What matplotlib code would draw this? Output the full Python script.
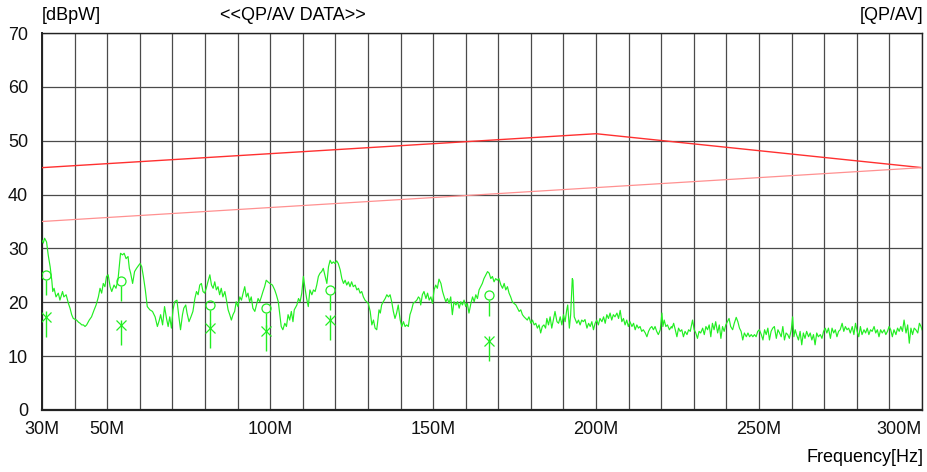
import numpy as np
import matplotlib.pyplot as plt

plt.rcParams['font.family'] = ['Liberation Sans', 'DejaVu Sans']

# limit lines (MHz, dBpW)
qp_limit_freq = [30, 200, 300]
qp_limit_level = [45.0, 51.3, 45.0]
av_limit_freq = [30, 300]
av_limit_level = [35.0, 45.0]

trace_freq = [
    30.0, 30.4, 30.8, 31.4, 31.9, 32.5, 33.0, 33.3, 33.7, 34.3, 35.0, 35.5, 36.3, 36.7, 37.4,
    38.1, 38.6, 39.1, 39.6, 40.6, 41.2, 41.7, 42.2, 42.7, 43.2, 43.7, 44.5, 45.2, 46.0, 46.6,
    47.3, 47.8, 48.3, 48.8, 49.3, 49.8, 50.3, 50.9, 51.4, 52.1, 52.7, 53.3, 53.7, 54.1, 54.7,
    55.2, 55.8, 56.4, 56.8, 57.2, 57.8, 58.4, 59.0, 59.7, 60.1, 60.6, 61.1, 61.7, 62.3, 63.1,
    63.9, 64.7, 65.4, 66.0, 66.4, 67.0, 67.6,
    68.2, 68.7, 69.2, 69.7, 70.2, 70.7, 71.4, 72.0, 72.5, 73.1, 73.5, 74.1, 74.5, 75.1, 75.7,
    76.3, 76.9, 77.4, 77.9, 78.4, 78.9, 79.4, 79.9, 80.4, 80.9, 81.5, 82.0, 82.5, 83.0, 83.5,
    84.0, 84.5, 85.0, 85.5, 86.1, 86.6, 87.1, 87.6, 88.1, 88.6, 89.1, 89.6, 90.1, 90.7, 91.2,
    91.7, 92.2, 92.7, 93.2, 93.7, 94.2, 94.7, 95.3, 95.8, 96.3, 96.8, 97.3, 97.8, 98.3, 98.8,
    99.3, 99.9, 100.7, 101.4, 101.9, 102.5, 102.9, 103.4, 103.9, 104.5, 105.0, 105.5, 106.0,
    106.5, 107.0, 107.4,
    108.2, 108.7, 109.2, 109.7, 110.2, 110.7, 111.2, 111.7, 112.2, 112.8, 113.3, 113.8, 114.3,
    114.8, 115.3, 115.8, 116.3, 116.9, 117.4, 117.9, 118.4, 118.9, 119.4, 119.9, 120.4, 120.9,
    121.5, 122.0, 122.5, 123.0, 123.5, 124.0, 124.5, 125.0, 125.5, 126.1, 126.6, 127.1, 127.6,
    128.1, 128.6, 129.1, 129.6, 130.1, 130.7, 131.2, 131.7, 132.2, 132.7, 133.0, 133.4, 133.8,
    134.2, 134.7, 135.3, 135.8, 136.3, 136.8, 137.3, 137.8, 138.3, 138.8, 139.3, 139.9, 140.4,
    140.9, 141.4, 141.9, 142.4, 142.9, 143.4, 143.9, 144.5, 145.0, 145.5, 145.9,
    146.2, 146.7, 147.2, 147.8, 148.3, 148.8, 149.3, 149.8, 150.3, 150.8, 151.3, 151.8, 152.4,
    152.9, 153.4, 153.9, 154.4, 154.9, 155.4, 155.9, 156.4, 157.0, 157.5, 158.0, 158.5, 159.0,
    159.5, 160.0, 160.5, 161.0, 161.6, 162.1, 162.6, 163.1, 163.6, 164.1, 164.6, 165.1, 165.6,
    166.2, 166.7, 167.2, 167.7, 168.2, 168.7, 169.2, 169.7, 170.2, 170.8, 171.3, 171.8, 172.3,
    172.8, 173.3, 173.8, 174.3, 174.8, 175.4, 175.9, 176.4, 176.9, 177.4, 177.9, 178.4, 178.9,
    179.4, 180.0, 180.5, 181.0, 181.5, 182.0, 182.5, 183.0, 183.5, 184.0, 184.5,
    184.9, 185.4, 185.9, 186.4, 186.9, 187.4, 188.0, 188.5, 189.0, 189.5, 190.0, 190.5, 191.0,
    191.3, 191.8, 192.2, 192.7, 192.9, 193.3, 193.7, 194.1, 194.6, 195.1, 195.6, 196.1, 196.6,
    197.2, 197.7, 198.2, 198.7, 199.2, 199.7, 200.2, 200.7, 201.2, 201.8, 202.3, 202.8, 203.3,
    203.8, 204.3, 204.8, 205.3, 205.8, 206.4, 206.9, 207.4, 207.9, 208.4, 208.9, 209.4, 209.9,
    210.4, 211.0, 211.5, 212.0, 212.5, 213.0, 213.5, 214.0, 214.5, 215.1, 215.6, 216.1, 216.6,
    217.1, 217.6, 218.1, 218.6, 219.1, 219.7, 220.2, 220.5, 220.9, 221.4, 221.9, 222.5, 223.1,
    223.3, 223.8, 224.3, 224.8, 225.3, 225.8, 226.3, 226.8, 227.3, 227.9, 228.4, 228.9, 229.6,
    230.1, 230.6, 231.1, 231.6, 232.1, 232.7, 233.2, 233.7, 234.2, 234.7, 235.2, 235.7, 236.2,
    236.7, 237.3, 237.8, 238.3, 238.8, 239.3, 239.8, 240.3, 240.8, 241.3, 241.9, 242.4, 243.0,
    243.5, 244.0, 244.5, 245.0, 245.5, 246.1, 246.6, 247.1, 247.6, 248.1, 248.6, 249.1, 249.6,
    250.1, 250.7, 251.2, 251.7, 252.2, 252.7, 253.2, 253.7, 254.2, 254.7, 255.3, 255.8, 256.3,
    256.8, 257.3, 257.8, 258.3, 258.8, 259.3, 259.9, 260.3, 260.7, 261.1, 261.5,
    262.1, 262.6, 263.1, 263.6, 264.1, 264.6, 265.2, 265.7, 266.2, 266.7, 267.2, 267.7, 268.2,
    268.8, 269.3, 269.8, 270.3, 270.8, 271.3, 271.9, 272.4, 272.9, 273.4, 273.9, 274.4, 274.9,
    275.5, 276.0, 276.5, 277.0, 277.5, 278.0, 278.6, 279.1, 279.6, 280.1, 280.6, 281.1, 281.6,
    282.2, 282.7, 283.2, 283.7, 284.2, 284.7, 285.3, 285.8, 286.3, 286.8, 287.3, 287.8, 288.4,
    288.9, 289.4, 289.9, 290.4, 290.9, 291.4, 292.0, 292.5, 293.0, 293.5, 294.0, 294.5, 295.1,
    295.6, 296.1, 296.6, 297.1, 297.6, 298.1, 298.7, 299.2, 299.7, 300.0,
]
trace_level = [
    31.5, 31.0, 31.9, 31.2, 28.8, 26.6, 24.1, 22.0, 22.6, 21.0, 21.7, 20.4, 22.0, 21.0, 21.4,
    19.8, 18.9, 17.7, 17.0, 16.7, 16.3, 16.1, 15.8, 15.8, 15.5, 15.8, 16.7, 17.3, 18.6, 19.5,
    21.0, 22.6, 21.7, 23.5, 22.9, 24.8, 25.1, 22.9, 22.0, 23.2, 22.6, 24.1, 26.6, 29.1, 28.8,
    29.1, 28.1, 28.5, 26.3, 25.4, 23.5, 25.7, 26.3, 26.9, 27.2, 26.6, 24.8, 22.3, 19.2, 18.6,
    18.3, 17.3, 15.5, 16.7, 17.7, 15.8, 19.2,
    17.0, 15.5, 17.3, 15.2, 18.6, 20.1, 20.4, 17.3, 14.9, 17.7, 18.9, 19.5, 18.0, 16.4, 17.3,
    18.3, 20.7, 22.0, 21.4, 23.2, 23.5, 22.0, 21.7, 22.6, 23.8, 25.1, 23.2, 22.6, 23.8, 22.3,
    22.9, 21.4, 22.6, 21.0, 22.0, 20.4, 18.6, 17.7, 16.7, 17.7, 18.3, 20.1, 19.2, 21.0, 20.4,
    21.7, 22.9, 21.0, 21.7, 20.1, 21.0, 18.9, 18.3, 19.5, 20.7, 20.1, 21.0, 22.0, 22.9, 24.1,
    23.8, 23.5, 23.2, 22.3, 21.4, 20.1, 18.0, 15.5, 14.9, 16.1, 15.5, 17.7, 16.7,
    18.3, 16.4, 18.6,
    19.5, 20.7, 20.1, 21.7, 24.8, 22.6, 20.7, 19.2, 22.3, 21.4, 22.3, 22.0, 23.2,
    24.8, 25.4, 25.7, 26.3, 24.8, 23.5, 26.6, 27.8, 27.2, 27.5, 27.2, 27.7, 27.2,
    26.0, 24.4, 23.5, 24.1, 23.2, 23.8, 22.9, 23.8, 22.9, 23.2, 22.3, 22.6, 21.7,
    22.0, 21.0, 20.4, 20.1, 19.8, 18.3, 15.8, 16.7, 15.2, 14.9, 16.4, 18.6, 18.0,
    19.5, 20.1, 20.7, 21.4, 21.0, 21.4, 20.1, 18.3, 17.0, 18.0, 19.5, 16.7, 15.5,
    16.4, 15.5, 15.8, 15.5, 17.7, 18.6, 19.8, 20.1, 20.4, 21.0, 20.7,
    19.5, 21.4, 22.0, 20.7, 21.7, 20.4, 21.0, 19.8, 22.3, 23.2, 22.6, 24.3, 23.5,
    22.0, 21.0, 20.1, 20.7, 19.8, 21.0, 17.7, 20.1, 19.5, 20.1, 18.9, 20.1, 19.5,
    20.4, 19.2, 19.8, 18.0, 19.8, 21.0, 20.1, 21.4, 20.7, 22.3, 22.9, 23.5, 24.4,
    25.1, 25.7, 25.4, 24.4, 24.8, 23.8, 24.4, 24.1, 24.4, 23.2, 22.6, 23.5, 22.3,
    22.9, 21.7, 21.0, 20.1, 19.8, 19.5, 18.9, 18.3, 18.6, 17.7, 17.3, 17.0, 16.7,
    17.3, 16.1, 16.7, 15.8, 16.1, 15.2, 15.8, 14.3, 15.5, 15.8, 15.2,
    17.0, 15.8, 17.3, 15.2, 16.7, 18.3, 16.4, 16.1, 17.3, 15.8, 17.7, 16.4, 18.6,
    19.5, 15.2, 17.7, 24.4, 24.1, 17.3, 16.7, 16.1, 16.7, 15.8, 16.7, 16.4, 16.8,
    15.2, 16.1, 15.5, 16.4, 14.9, 16.1, 16.7, 15.8, 17.0, 16.4, 17.3, 16.1, 17.7,
    17.0, 18.0, 16.7, 17.7, 17.3, 18.0, 17.0, 18.5, 16.4, 17.0, 15.8, 16.7, 15.5,
    16.4, 15.5, 16.1, 14.9, 15.8, 15.2, 15.5, 14.6, 14.9, 14.3, 13.6, 14.6, 15.2,
    15.5, 14.9, 15.5, 14.6, 14.0, 14.9, 18.0, 15.5, 16.7, 15.5, 15.8, 14.9, 15.5,
    15.2, 16.1, 14.9, 13.6, 15.2, 14.6, 14.9, 13.6, 14.6, 14.0, 14.9, 14.6, 16.7,
    14.9, 14.3, 13.3, 14.6, 14.3, 15.2, 14.0, 15.5, 14.9, 15.8, 13.6, 16.1, 14.9,
    16.4, 14.3, 15.8, 13.3, 15.5, 14.6, 15.8, 16.4, 17.0, 15.5, 14.9, 16.1, 17.2,
    16.4, 15.2, 14.6, 13.0, 14.3, 13.6, 14.3, 13.6, 14.0, 13.6, 14.0, 13.6, 14.6,
    14.9, 14.0, 13.0, 14.9, 14.0, 15.2, 13.0, 14.6, 15.2, 15.5, 13.3, 14.9, 14.3,
    13.6, 15.5, 13.0, 14.3, 14.0, 13.3, 14.9, 17.3, 13.6, 14.9, 14.0,
    13.0, 14.6, 12.1, 14.3, 13.3, 14.6, 13.6, 14.3, 13.0, 14.0, 12.1, 14.3, 13.6,
    14.0, 13.3, 14.6, 15.2, 14.3, 15.2, 13.3, 15.2, 14.3, 14.9, 13.6, 14.6, 14.9,
    16.1, 14.6, 15.5, 14.9, 15.2, 14.3, 15.5, 14.0, 16.1, 14.6, 13.6, 15.5, 14.0,
    14.9, 14.3, 15.2, 14.0, 14.9, 14.6, 15.5, 14.3, 14.9, 13.6, 14.9, 14.3, 14.9,
    14.0, 14.6, 15.5, 14.9, 13.6, 14.9, 14.0, 15.2, 14.6, 15.5, 14.6, 16.7, 14.3,
    15.8, 12.4, 15.2, 14.0, 15.2, 14.9, 14.3, 16.1, 15.5, 14.9,
]

# final measurement points
peak_freq = [31.2, 54.2, 81.5, 98.7, 118.3, 167.1]
qp_level = [25.1, 24.0, 19.5, 19.0, 22.3, 21.3]
av_level = [17.3, 15.8, 15.2, 14.7, 16.7, 12.8]

green = '#22ee22'

fig = plt.figure(figsize=(9.27, 4.72), dpi=100)
ax = fig.add_axes([42/927, 62/472, 880/927, 377/472])

ax.plot(trace_freq, trace_level, color=green, lw=0.85, zorder=3)
ax.plot(qp_limit_freq, qp_limit_level, color='#ff3030', lw=1.0, zorder=3)
ax.plot(av_limit_freq, av_limit_level, color='#ff9090', lw=0.9, zorder=3)

qp = np.array(qp_level)
av = np.array(av_level)
ax.vlines(peak_freq, qp - 0.9, qp - 3.8, color=green, lw=1.0, zorder=4)
ax.plot(peak_freq, qp, 'o', ms=6.5, mfc='none', mec=green, mew=0.9, zorder=4)
ax.vlines(peak_freq, av + 1.0, av - 3.7, color=green, lw=1.0, zorder=4)
ax.plot(peak_freq, av, 'x', ms=7.5, color=green, mew=0.9, zorder=4)

ax.set_xlim(30, 300)
ax.set_ylim(0, 70)
ax.set_xticks(np.arange(30, 301, 10), minor=True)
ax.set_xticks([30, 50, 100, 150, 200, 250, 300])
ax.set_xticklabels(['30M', '50M', '100M', '150M', '200M', '250M', '300M'])
ax.get_xticklabels()[-1].set_horizontalalignment('right')
ax.set_yticks(np.arange(0, 71, 10))
ax.grid(True, which='both', color='#4a4a4a', lw=0.9)
ax.tick_params(which='both', length=0, labelsize=13, colors='#111111')
ax.tick_params(axis='x', pad=8)
ax.tick_params(axis='y', pad=10)
for s in ax.spines.values():
    s.set_color('#222222')
    s.set_linewidth(1.0)
ax.spines['bottom'].set_linewidth(1.6)
ax.spines['left'].set_linewidth(1.4)

fig.text(42/927, 1 - 16/472, '[dBpW]', fontsize=13, va='center', ha='left')
fig.text(220/927, 1 - 16/472, '<<QP/AV DATA>>', fontsize=13, va='center', ha='left')
fig.text(923/927, 1 - 16/472, '[QP/AV]', fontsize=13, va='center', ha='right')
fig.text(923/927, 1 - 458/472, 'Frequency[Hz]', fontsize=13, va='center', ha='right')

fig.savefig('out.png', dpi=100)
